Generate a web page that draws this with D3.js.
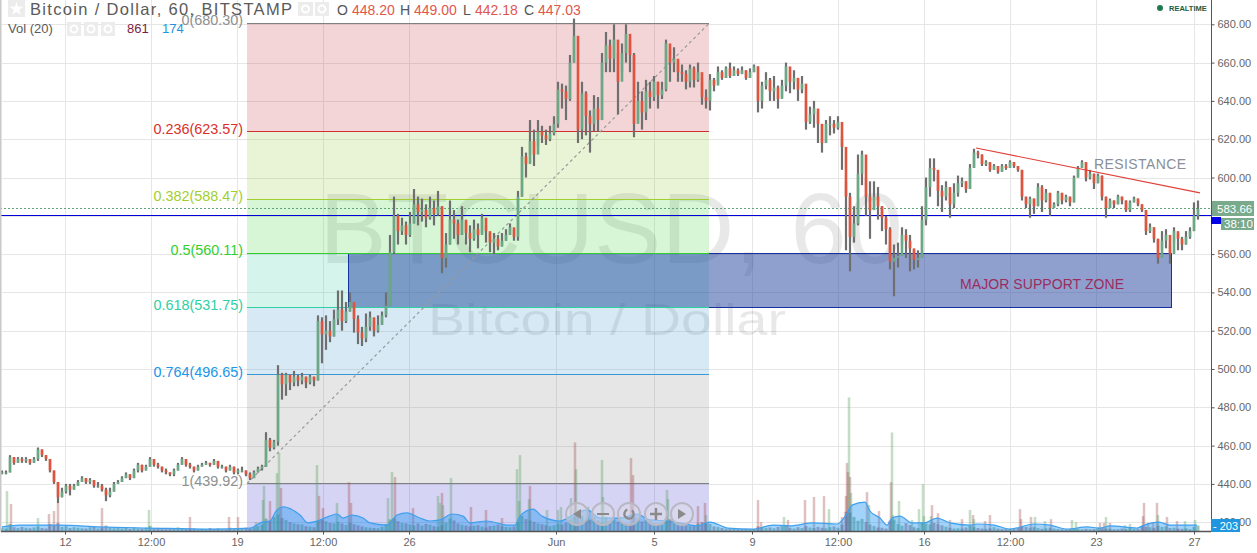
<!DOCTYPE html>
<html><head><meta charset="utf-8"><title>Bitcoin / Dollar</title>
<style>html,body{margin:0;padding:0;background:#fff;overflow:hidden}svg{display:block}text{font-family:"Liberation Sans",Arial,sans-serif}</style>
<script src="https://cdn.jsdelivr.net/npm/d3@7"></script></head><body>
<div id="chart"></div>
<script>
// Hours since the chart's left edge; candles shown every 4 hours
const barStartHour = 2, barStepHours = 4;
const closes = [
446,446,454,451,453,452,453,451,453,458,
455,453,447,441,433,436,439,437,439,441,
443,441,442,439,439,437,434,436,440,441,
443,445,443,447,450,447,449,453,450,449,
447,446,445,447,450,453,450,449,447,449,
450,451,450,452,449,449,447,449,446,447,
447,445,443,446,448,449,463,459,462,497,
492,497,493,496,494,496,493,496,494,525,
518,520,517,526,531,525,530,535,526,519,
516,522,527,520,523,528,533,561,580,572,
575,570,576,586,582,583,579,584,581,585,
558,565,578,576,570,578,571,568,573,570,
579,572,566,568,564,567,570,574,569,590,
611,607,619,612,624,622,620,623,628,646,
645,641,660,674,625,644,632,628,636,630,
660,669,662,672,650,665,675,664,628,640,
634,645,642,650,643,646,670,660,662,655,
654,650,657,651,655,642,640,651,648,655,
652,657,653,656,654,656,652,655,658,640,
648,651,645,647,641,648,658,650,652,646,
649,629,633,636,628,618,628,628,626,629,
616,590,569,576,602,612,590,583,590,585,
579,573,556,558,559,570,567,563,557,558,
578,595,605,604,593,590,595,586,592,597,
598,594,605,613,612,607,608,604,606,603,
606,605,608,606,604,590,586,589,585,595,
588,592,584,586,592,588,590,587,600,605,
608,600,602,597,601,590,584,588,586,590,
588,583,587,589,586,583,572,574,568,558,
567,570,560,572,568,565,569,572,580,583.66];
const highs = [
447,447,455,454,454,454,454,453,454,459,
458,455,453,447,441,438,440,440,440,442,
444,443,443,442,441,440,438,438,441,442,
444,446,445,448,451,450,450,454,453,451,
449,448,446,448,451,454,453,451,449,450,
451,452,451,453,452,450,449,450,449,448,
449,447,446,447,449,450,467,464,463,502,
498,498,497,499,497,498,496,497,496,528,
527,528,525,531,541,541,535,540,533,528,
522,529,530,525,528,530,540,570,590,581,
579,577,582,594,590,589,586,590,588,593,
585,571,588,583,578,585,577,575,578,576,
581,575,571,571,570,571,573,576,573,593,
616,613,630,625,630,627,625,627,632,650,
649,648,664,683,640,650,645,635,643,642,
665,676,672,680,665,670,680,672,665,650,
645,651,650,653,650,650,672,667,668,660,
659,656,659,658,660,652,646,654,652,658,
656,658,660,658,657,658,656,657,659,658,
650,655,652,653,648,651,660,656,656,652,
653,640,637,640,634,628,630,632,630,632,
622,598,592,585,612,614,600,598,598,595,
585,580,574,565,566,574,573,570,562,562,
585,600,610,610,601,596,598,592,597,601,
600,598,607,615,614,612,609,608,607,606,
607,607,609,608,606,604,590,590,589,597,
596,594,592,587,593,592,591,590,601,606,
609,608,604,602,602,601,590,589,588,591,
590,588,588,590,589,586,583,576,574,568,
572,573,565,574,571,569,572,574,587,588];
const lows = [
445,445,446,450,451,451,451,450,451,452,
454,452,446,440,430,433,435,434,437,439,
441,440,440,438,438,436,431,433,436,440,
441,443,442,443,446,446,447,449,449,448,
446,445,444,444,447,450,449,448,446,447,
449,450,449,450,448,448,446,447,445,445,
446,444,442,443,446,447,449,457,458,460,
484,486,489,491,491,492,490,492,491,494,
503,510,514,517,523,520,524,530,519,513,
512,514,520,517,519,523,527,533,560,565,
570,565,569,576,575,577,574,578,575,580,
550,553,565,568,565,570,565,561,567,563,
571,566,561,560,562,564,567,570,567,567,
590,600,612,606,616,618,617,619,622,626,
636,630,640,660,618,620,622,613,624,624,
630,655,655,655,633,655,660,655,621,630,
625,630,636,640,636,641,645,650,655,650,
650,646,647,647,650,638,636,635,645,649,
651,652,652,653,653,654,651,652,655,634,
636,646,640,640,636,642,645,644,646,640,
644,625,628,626,618,613,618,622,623,625,
604,562,551,566,575,596,580,568,583,578,
572,565,552,538,553,565,558,551,552,553,
558,575,590,598,585,582,588,579,584,590,
595,592,594,605,610,606,606,603,604,602,
603,604,605,605,603,588,584,579,581,585,
582,587,580,584,585,586,587,585,587,600,
605,598,599,594,597,588,579,584,584,586,
586,582,582,587,585,582,570,571,566,555,
562,563,555,566,562,562,565,568,572,578];
// Everyday volume, one per shown candle
const volumes = [
120,90,260,140,110,150,120,100,130,160,
110,90,260,210,290,150,180,110,140,120,
100,90,140,160,90,130,200,120,100,110,
90,120,80,130,100,90,120,190,100,120,
90,70,110,90,130,80,70,100,90,60,
80,60,110,70,90,60,50,120,70,100,
80,120,90,140,180,230,460,380,520,610,
480,410,330,280,250,240,180,160,140,380,
420,360,300,280,340,280,220,300,250,210,
170,140,120,110,100,160,260,430,470,360,
300,280,240,210,280,200,260,230,180,160,
220,310,460,390,280,230,200,170,190,210,
160,130,180,200,230,180,150,140,160,320,
560,440,390,340,280,250,220,180,210,260,
240,310,410,520,620,560,380,420,510,390,
340,520,380,430,340,300,260,240,560,460,
350,410,360,280,240,230,390,430,320,240,
220,210,190,180,280,330,260,260,170,150,
110,90,70,80,60,70,80,60,70,170,
120,110,130,100,150,180,190,120,90,140,
110,180,130,110,150,120,100,140,170,120,
240,710,680,520,380,450,330,240,190,130,
120,90,380,420,260,200,290,220,140,110,
320,280,240,300,250,210,160,120,90,100,
90,130,180,140,110,90,80,100,140,90,
80,70,90,70,110,170,150,120,140,110,
80,100,120,90,70,60,50,70,110,90,
60,80,60,70,130,100,90,80,60,70,
90,60,110,80,70,180,160,140,120,190,
150,170,110,120,90,80,100,70,150,203];
// Tall volume bars: hour, volume, direction (1 up, -1 down)
const spikeHours = [7,11,38,49,54,58,102,149,190,229,238,256,263,264,270,277,279,281,317,319,323,337,349,351,388,392,395,413,438,440,442,443,451,471,486,502,517,519,520,529,530,547,558,561,571,575,576,588,602,603,631,633,667,668,698,705,706,758,761,784,788,805,814,824,829,842,846,847,848,849,850,851,867,869,879,891,892,893,899,912,919,923,924,931,932,938,950,962,970,973,974,985,990,1020,1021,1031,1035,1045,1051,1072,1076,1100,1104,1106,1110,1125,1130,1143,1144,1148,1153,1157,1158,1167,1177,1185,1195];
const spikeVolumes = [1480,1000,480,630,740,1040,850,780,520,520,520,330,1150,1670,1110,2140,2890,1590,2440,1300,850,1040,1810,1040,1220,2180,2000,850,1300,1040,1410,960,1960,890,780,480,2290,1110,2810,1180,1670,780,780,890,1220,3280,2290,890,2630,1260,2700,2070,1520,1180,920,1040,590,1150,330,520,410,1150,1260,1290,810,520,1300,2520,2180,4950,2000,1410,1440,960,740,1810,3650,590,1110,410,810,1740,550,550,960,660,410,440,780,590,440,370,590,810,440,520,520,370,440,410,330,300,300,520,300,220,260,550,1040,300,330,1040,590,520,370,370,410];
const spikeDirs = [1,-1,1,-1,-1,-1,-1,1,-1,-1,-1,1,1,1,-1,1,1,-1,1,-1,-1,1,-1,-1,1,1,-1,-1,1,1,-1,1,1,-1,-1,-1,1,1,1,1,-1,1,1,1,1,-1,1,1,1,1,-1,-1,1,1,-1,-1,1,-1,-1,1,-1,-1,-1,-1,1,-1,-1,-1,-1,1,-1,1,-1,1,-1,-1,1,1,1,1,1,1,1,1,-1,-1,-1,-1,1,-1,1,-1,-1,-1,-1,-1,1,1,-1,1,1,-1,-1,1,-1,1,1,-1,-1,-1,-1,-1,1,-1,-1,1,1];
// Volume moving average (20)
const maHours = [2,20,60,100,150,210,250,262,270,276,283,300,308,317,330,337,343,352,363,370,387,397,407,420,430,440,452,463,470,487,507,515,520,533,542,560,573,587,600,620,637,650,667,680,697,710,728,753,773,790,813,837,846,852,865,870,880,887,892,900,912,924,937,950,970,977,994,1010,1034,1050,1067,1087,1100,1110,1137,1144,1159,1170,1197];
const maValues = [150,220,220,150,110,70,110,330,370,740,890,590,300,370,560,630,480,590,480,300,220,590,670,480,370,410,630,550,300,370,220,220,550,810,550,370,590,780,480,480,630,410,370,300,190,330,110,70,220,190,300,260,590,960,1070,740,480,220,480,550,300,300,480,300,220,260,220,70,260,220,70,150,110,190,110,220,330,220,220];

const priceTicks = [680,660,640,620,600,580,560,540,520,500,480,460,440,420];
const priceTicksShown = [680,660,640,620,600,560,540,520,500,480,460,440,420];
const timeTickHours = [65,151,237,323,409,556,654,752,838,924,1010,1096,1194];
const timeTickLabels = ["12","12:00","19","12:00","26","Jun","5","9","12:00","16","12:00","23","27"];
// Fibonacci retracement
const fibRatios = ["0","0.236","0.382","0.5","0.618","0.764","1"];
const fibPrices = [680.30,623.57,588.47,560.11,531.75,496.65,439.92];
const fibLineColors = ["#808080","#d0302e","#a2cf30","#33cf2f","#2fd0a3","#3a98d6","#808080"];
const fibBandColors = ["#c32d37","#91c832","#37d232","#2dcda0","#3291cd","#828282","#3228c8"];
const fibStartHour = 247, fibEndHour = 709;
const supportStartHour = 348, supportEndHour = 1171;
const resistanceHours = [976,1200];
const resistancePrices = [615.4,592];
const lastPrice = 583.66, alertPrice = 580;

const W = 1257, H = 553, plotRight = 1211, plotBottom = 531.5;
const x = d3.scaleLinear().domain([0,1211]).range([0,plotRight]);
const y = d3.scaleLinear().domain([680,420]).range([24.3,522.2]);
const v = d3.scaleLinear().domain([0,5000]).range([531,396]);
const snap = p => Math.floor(y(p)-.5)+.5;
const svg = d3.select("#chart").append("svg").attr("width",W).attr("height",H);
const candles = closes.map((c,i)=>({h:barStartHour+i*barStepHours,c,o:i?closes[i-1]:c,hi:highs[i],lo:lows[i],v:volumes[i]}));
const upC="#6ba886", downC="#e0533d", wickC="#6f6f6f";

// grid
svg.append("g").selectAll("line").data(priceTicks).join("line")
 .attr("x1",2).attr("x2",plotRight).attr("y1",d=>Math.round(y(d))+.5).attr("y2",d=>Math.round(y(d))+.5)
 .attr("stroke","#e6e6e6");
svg.append("g").selectAll("line").data(timeTickHours).join("line")
 .attr("x1",d=>x(d)+.5).attr("x2",d=>x(d)+.5).attr("y1",0).attr("y2",plotBottom)
 .attr("stroke","#e6e6e6");

// watermark
const wm = svg.append("g").attr("fill","#000").attr("fill-opacity",.09).attr("text-anchor","middle");
wm.append("text").attr("x",611).attr("y",263).attr("font-size",101).text("BTCUSD, 60");
wm.append("text").attr("x",607).attr("y",335).attr("font-size",45).attr("textLength",358).attr("lengthAdjust","spacingAndGlyphs").text("Bitcoin / Dollar");

// fib bands
const bandTops = fibPrices.map(snap), bandBottoms = [...bandTops.slice(1), plotBottom];
svg.append("g").selectAll("rect").data(fibBandColors).join("rect")
 .attr("x",x(fibStartHour)).attr("width",x(fibEndHour)-x(fibStartHour))
 .attr("y",(d,i)=>bandTops[i]).attr("height",(d,i)=>bandBottoms[i]-bandTops[i])
 .attr("fill",d=>d).attr("fill-opacity",.2);

// support zone
svg.append("rect").attr("x",x(supportStartHour)+.5).attr("width",x(supportEndHour)-x(supportStartHour))
 .attr("y",snap(fibPrices[3])).attr("height",snap(fibPrices[4])-snap(fibPrices[3]))
 .attr("fill","#1f419f").attr("fill-opacity",.5).attr("stroke","#16309c");

// fib lines and labels
svg.append("g").selectAll("line").data(fibPrices).join("line")
 .attr("x1",x(fibStartHour)).attr("x2",x(fibEndHour)).attr("y1",d=>snap(d)).attr("y2",d=>snap(d))
 .attr("stroke",(d,i)=>fibLineColors[i]);
svg.append("g").selectAll("text").data(fibPrices).join("text")
 .attr("x",x(fibStartHour)-4).attr("y",d=>y(d)+1.5).attr("text-anchor","end").attr("font-size",14.4)
 .attr("fill",(d,i)=>["#8f8f8f","#d9302c","#a2cf30","#33cf2f","#2fd0a3","#2196e8","#8f8f8f"][i])
 .text((d,i)=>`${fibRatios[i]}(${d.toFixed(2)})`);
// fib trend line
svg.append("line").attr("x1",x(fibStartHour)).attr("y1",snap(fibPrices[6])).attr("x2",x(fibEndHour)).attr("y2",snap(fibPrices[0]))
 .attr("stroke","#9a9a9a").attr("stroke-width",1.2).attr("stroke-dasharray","3 3");

// volume
const volG = svg.append("g");
const ma = maHours.map((h,i)=>[h,maValues[i]]);
volG.selectAll("rect.b").data(candles).join("rect").attr("class","b")
 .attr("x",d=>x(d.h)-1.5).attr("width",3).attr("y",d=>v(d.v)).attr("height",d=>v(0)-v(d.v))
 .attr("fill",d=>d.c>=d.o?"#3f8a5a":"#8a4a5a").attr("fill-opacity",.5);
volG.selectAll("rect.s").data(spikeHours).join("rect").attr("class","s")
 .attr("x",d=>x(d)-1.25).attr("width",2.5).attr("y",(d,i)=>v(spikeVolumes[i])).attr("height",(d,i)=>v(0)-v(spikeVolumes[i]))
 .attr("fill",(d,i)=>spikeDirs[i]>0?"#4f9a5a":"#a04a4a").attr("fill-opacity",.34);
volG.append("path").datum(ma).attr("d",d3.area().x(d=>x(d[0])).y0(v(0)).y1(d=>v(d[1])).curve(d3.curveMonotoneX))
 .attr("fill","#2196f3").attr("fill-opacity",.42);
volG.append("path").datum(ma).attr("d",d3.line().x(d=>x(d[0])).y(d=>v(d[1])).curve(d3.curveMonotoneX))
 .attr("fill","none").attr("stroke","#3fa0ee").attr("stroke-width",1.2);

// horizontal lines
svg.append("line").attr("x1",0).attr("x2",plotRight).attr("y1",Math.floor(y(alertPrice))+.5).attr("y2",Math.floor(y(alertPrice))+.5).attr("stroke","#0000d8");
svg.append("line").attr("x1",0).attr("x2",plotRight).attr("y1",Math.floor(y(lastPrice))+.5).attr("y2",Math.floor(y(lastPrice))+.5).attr("stroke","#5fa37c").attr("stroke-dasharray","2 2");

// candles
const cG = svg.append("g");
cG.selectAll("line").data(candles).join("line")
 .attr("x1",d=>x(d.h)).attr("x2",d=>x(d.h)).attr("y1",d=>y(d.hi)).attr("y2",d=>y(d.lo))
 .attr("stroke",wickC).attr("stroke-width",2.2);
cG.selectAll("rect").data(candles).join("rect")
 .attr("x",d=>x(d.h)-1.3).attr("width",2.6)
 .attr("y",d=>y(Math.max(d.o,d.c))).attr("height",d=>Math.max(1,Math.abs(y(d.o)-y(d.c))))
 .attr("fill",d=>d.c>=d.o?upC:downC);

// resistance
svg.append("line").attr("x1",x(resistanceHours[0])).attr("y1",y(resistancePrices[0])).attr("x2",x(resistanceHours[1])).attr("y2",y(resistancePrices[1]))
 .attr("stroke","#e0403a").attr("stroke-width",1.2);
svg.append("text").attr("x",x(1094)).attr("y",y(604.5)).attr("font-size",14).attr("fill","#8a8f99").attr("textLength",92).attr("lengthAdjust","spacing").text("RESISTANCE");
svg.append("text").attr("x",x(960)).attr("y",y(542)).attr("font-size",14).attr("fill","#9c2c5e").attr("textLength",164).attr("lengthAdjust","spacing").text("MAJOR SUPPORT ZONE");

// border + axes
svg.append("line").attr("x1",.75).attr("x2",.75).attr("y1",0).attr("y2",plotBottom).attr("stroke","#c8c8c8").attr("stroke-width",1.5);
const ax = svg.append("g").attr("transform",`translate(${plotRight+.5},0)`)
 .call(d3.axisRight(y).tickValues(priceTicksShown).tickSize(3).tickPadding(3).tickFormat(d3.format(".2f")));
ax.select(".domain").remove();
ax.append("line").attr("x1",0).attr("x2",0).attr("y1",0).attr("y2",plotBottom).attr("stroke","#555");
ax.selectAll(".tick line").attr("stroke","#555");
ax.selectAll("text").attr("fill","#666").attr("font-size",11).attr("font-family","Liberation Sans");
const bx = svg.append("g").attr("transform",`translate(0,${plotBottom})`)
 .call(d3.axisBottom(x).tickValues(timeTickHours).tickSize(3).tickPadding(4).tickFormat((d,i)=>timeTickLabels[i]));
bx.select(".domain").attr("stroke","#555").attr("stroke-width",1.5).attr("d",`M1,0H${plotRight}`);
bx.selectAll(".tick line").attr("stroke","#555");
bx.selectAll("text").attr("fill","#666").attr("font-size",11).attr("font-family","Liberation Sans");

// price labels
const tag=(x0,y0,w,h,fill,txt,tx,anchor,fs)=>{svg.append("rect").attr("x",x0).attr("y",y0).attr("width",w).attr("height",h).attr("fill",fill);
 if(txt)svg.append("text").attr("x",tx).attr("y",y0+h/2+4).attr("fill","#fff").attr("font-size",fs||11.5).attr("text-anchor",anchor||"start").text(txt);};
tag(1211,217,10,7,"#0000e8");
tag(1212,201,42,15,"#78aa8b",lastPrice.toFixed(2),1217);
tag(1221,218,33,12,"#78aa8b","38:10",1224);
tag(1211,519,29,13,"#2196e0","- 203",1213,"start",11);

// legend
const hdr=svg.append("g");
const box=(x0,y0,w,h,f)=>hdr.append("rect").attr("x",x0).attr("y",y0).attr("width",w).attr("height",h).attr("fill",f||"#ececec");
box(8,0,17,17);
hdr.append("path").attr("d",d3.symbol(d3.symbolStar,60)()).attr("transform","translate(16.5,9)").attr("fill","#fff");
hdr.append("text").attr("x",30).attr("y",15).attr("font-size",16.5).attr("fill","#5a5a5a").attr("textLength",262).attr("lengthAdjust","spacing").text("Bitcoin / Dollar, 60, BITSTAMP");
[[298,15],[315,14],[67,14],[84,14],[101,14]].forEach(([a,w],i)=>{const yy=i<2?2:22;box(a,yy,w,14);
 hdr.append("circle").attr("cx",a+w/2).attr("cy",yy+7).attr("r",3.5).attr("fill","none").attr("stroke","#fff").attr("stroke-width",2);});
const ohlcLabels=["O","H","L","C"], ohlcValues=["448.20","449.00","442.18","447.03"];
[337,400,463,524].forEach((a,i)=>hdr.append("text").attr("x",a).attr("y",14.5).attr("font-size",14).attr("fill","#555").text(ohlcLabels[i]));
[352,414,475,538].forEach((a,i)=>hdr.append("text").attr("x",a).attr("y",14.5).attr("font-size",14).attr("fill","#e0574c").text(ohlcValues[i]));
hdr.append("text").attr("x",8).attr("y",33).attr("font-size",13).attr("fill","#5a5a5a").text("Vol (20)");
hdr.append("text").attr("x",127).attr("y",33).attr("font-size",13).attr("fill","#7c1f44").text("861");
hdr.append("text").attr("x",162).attr("y",33).attr("font-size",13).attr("fill","#2196e0").text("174");
hdr.append("circle").attr("cx",1160).attr("cy",8).attr("r",3).attr("fill","#1f7a52");
hdr.append("text").attr("x",1169).attr("y",11).attr("font-size",7.5).attr("font-weight","bold").attr("fill","#1d5c3f").text("REALTIME");

// navigation buttons
const navX=[577,603,629,656,682];
const nav=svg.append("g");
nav.selectAll("circle").data(navX).join("circle").attr("cx",d=>d).attr("cy",514).attr("r",11)
 .attr("fill","#dcdce6").attr("fill-opacity",.45).attr("stroke","#b8b8c4").attr("stroke-width",2);
const navG=["M4,-5L-4,0L4,5Z","M-6,-1H6V1H-6Z","","M-6,-1.2H-1.2V-6H1.2V-1.2H6V1.2H1.2V6H-1.2V1.2H-6Z","M-4,-5L4,0L-4,5Z"];
navX.forEach((a,i)=>{ if(navG[i]) nav.append("path").attr("d",navG[i]).attr("transform",`translate(${a},514)`).attr("fill","#8a8a8a"); });
nav.append("path").attr("d",d3.arc()({innerRadius:3.5,outerRadius:5.8,startAngle:0.7,endAngle:5.9})).attr("transform",`translate(${navX[2]},514)`).attr("fill","#8a8a8a");
</script></body></html>
